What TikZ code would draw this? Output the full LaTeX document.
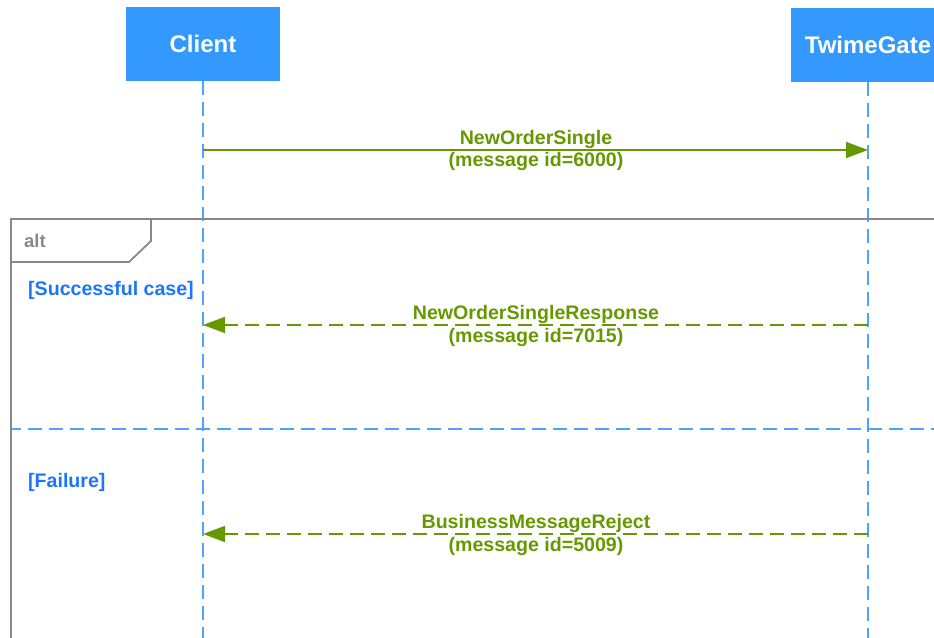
\documentclass[tikz,border=0pt]{standalone}
\usepackage{fontspec}
\setmainfont{Liberation Sans}
\usetikzlibrary{arrows.meta}
\definecolor{boxblue}{HTML}{3399FF}
\definecolor{lifeblue}{HTML}{4DA3FF}
\definecolor{msggreen}{HTML}{669900}
\definecolor{guardblue}{HTML}{1A75FF}
\definecolor{framegray}{HTML}{888888}
\begin{document}
\begin{tikzpicture}[x=1pt,y=-1pt,
  participant/.style={fill=boxblue, draw=none, minimum width=154pt, minimum height=74pt,
    text=white, font=\bfseries\fontsize{24}{28}\selectfont, inner sep=0pt},
  lifeline/.style={draw=lifeblue, line width=1.5pt, dash pattern=on 14pt off 7pt},
  msg/.style={draw=msggreen, line width=1.8pt, -{Triangle[length=22pt,width=16pt]}},
  reply/.style={msg, dash pattern=on 14pt off 7pt},
  mlabel/.style={text=msggreen, font=\bfseries\fontsize{19.6}{23}\selectfont, anchor=base, inner sep=0pt},
  frame/.style={draw=framegray, line width=1.8pt},
  framelabel/.style={text=framegray, font=\bfseries\fontsize{18.5}{22}\selectfont, anchor=base west, inner sep=0pt},
  guard/.style={text=guardblue, font=\bfseries\fontsize{19.6}{23}\selectfont, anchor=base west, inner sep=0pt},
  separator/.style={draw=lifeblue, line width=1.5pt, dash pattern=on 14pt off 7pt, dash phase=4pt}
]
\useasboundingbox (0,0) rectangle (934,637);
\clip (0,0) rectangle (934,637);

% participants
\node[participant] (client) at (203,44) {Client};
\node[participant] (gate) at (868,45) {TwimeGate};

% lifelines
\coordinate (cEnd) at (203,640);
\coordinate (gEnd) at (868,640);
\draw[lifeline] (client.south) -- (cEnd);
\draw[lifeline] (gate.south) -- (gEnd);

% message 1
\coordinate (c1) at (203,150);
\coordinate (g1) at (868,150);
\draw[msg] (c1) -- (g1);
\node[mlabel] (m1a) at (536,144) {NewOrderSingle};
\node[mlabel] (m1b) at (536,166) {(message id=6000)};

% alt frame
\draw[frame] (11,660) -- (11,219) -- (950,219);
\draw[frame] (11,262) -- (129,262) -- (151,241) -- (151,219);
\node[framelabel] (alt) at (24,247) {alt};

% successful case
\node[guard] (guard1) at (28,295) {[Successful case]};
\coordinate (c2) at (203,325);
\coordinate (g2) at (868,325);
\draw[reply] (g2) -- (c2);
\node[mlabel] (m2a) at (536,319) {NewOrderSingleResponse};
\node[mlabel] (m2b) at (536,342) {(message id=7015)};

% separator
\coordinate (s1) at (11,429);
\coordinate (s2) at (955,429);
\draw[separator] (s1) -- (s2);

% failure
\node[guard] (guard2) at (28,487) {[Failure]};
\coordinate (c3) at (203,534);
\coordinate (g3) at (868,534);
\draw[reply] (g3) -- (c3);
\node[mlabel] (m3a) at (536,528) {BusinessMessageReject};
\node[mlabel] (m3b) at (536,551) {(message id=5009)};
\end{tikzpicture}
\end{document}
